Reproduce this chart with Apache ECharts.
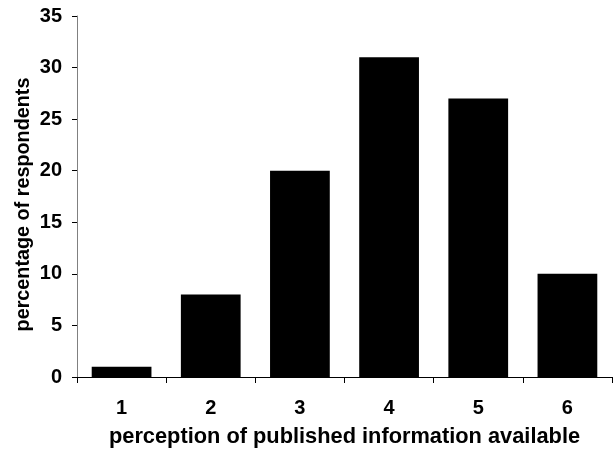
<!DOCTYPE html>
<html><head><meta charset="utf-8">
<script src="https://cdn.jsdelivr.net/npm/echarts@6/dist/echarts.min.js"></script>
<style>html,body{margin:0;padding:0;background:#fff}#c{width:613px;height:453px}</style>
</head><body><div id="c"></div>
<script>
const categories = ['1','2','3','4','5','6'];
const values = [1, 8, 20, 31, 27, 10];
const yTicks = [0, 5, 10, 15, 20, 25, 30, 35];

const chart = echarts.init(document.getElementById('c'), null, {renderer:'canvas'});
const font = 'Liberation Sans, Arial, sans-serif';
chart.setOption({
  animation: false,
  grid: {left: 77, right: 1, top: 16, bottom: 75, containLabel: false},
  xAxis: {
    type: 'category', data: categories,
    name: 'perception of published information available',
    nameLocation: 'middle', nameGap: 49, nameMoveOverlap: false,
    nameTextStyle: {fontFamily: font, fontWeight: 'bold', fontSize: 21.8, color: '#000'},
    axisLine: {lineStyle: {color: '#000', width: 1}},
    axisTick: {show: true, alignWithLabel: false, length: 6, lineStyle: {color: '#000'}},
    axisLabel: {fontFamily: font, fontWeight: 'bold', fontSize: 20, color: '#000', margin: 21}
  },
  yAxis: {
    type: 'value', min: yTicks[0], max: yTicks[yTicks.length-1], interval: 5,
    name: 'percentage of respondents',
    nameLocation: 'middle', nameGap: 43, nameRotate: 90, nameMoveOverlap: false,
    nameTextStyle: {fontFamily: font, fontWeight: 'bold', fontSize: 19.8, color: '#000', padding: [0, 16, 0, 0]},
    axisLine: {show: true, lineStyle: {color: '#808080', width: 1}},
    axisTick: {show: true, length: 5, lineStyle: {color: '#000'}},
    axisLabel: {fontFamily: font, fontWeight: 'bold', fontSize: 20, color: '#000', margin: 15},
    splitLine: {show: false}
  },
  series: [{
    type: 'bar', data: values, barWidth: '67%',
    itemStyle: {color: '#000'}
  }]
});
</script></body></html>
